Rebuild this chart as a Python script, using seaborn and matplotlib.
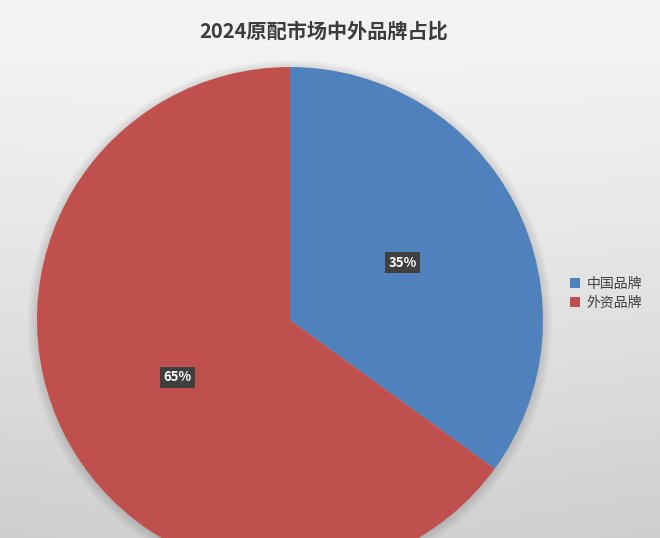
import numpy as np
import seaborn as sns
import matplotlib.pyplot as plt
from matplotlib.patches import Circle

# data
brands = ["中国品牌", "外资品牌"]
shares = [35, 65]
colors = ["#4F81BD", "#C0504D"]
title = "2024原配市场中外品牌占比"

sns.set_theme(style="white")
plt.rcParams['font.family'] = ['Noto Sans CJK SC', 'DejaVu Sans']

fig = plt.figure(figsize=(6.6, 5.38), dpi=100)
ax = fig.add_axes([0, 0, 1, 1])

# grey background, light at top and darker towards the bottom
yy, xx = np.mgrid[0:538, 0:660]
t = 1 - yy / 537.0
bg = 0.955 - 0.13 * t ** 1.3 - 0.02 * (np.abs(xx - 330) / 330.0) * t
ax.imshow(bg, cmap="gray", vmin=0, vmax=1, extent=(0, 660, 0, 538),
          origin="lower", aspect="auto", zorder=0)

# soft shadow behind the pie
for i, r in enumerate(np.linspace(262, 253, 6)):
    ax.add_patch(Circle((290, 216), r, facecolor="black", alpha=0.025,
                        edgecolor="none", zorder=1))

wedges, texts, autotexts = ax.pie(
    shares, colors=colors, startangle=90, counterclock=False,
    center=(290, 218), radius=253, autopct="%d%%", pctdistance=0.5,
    frame=True, wedgeprops=dict(linewidth=0),
    textprops=dict(color="white", fontsize=9.5, fontweight="bold"))
for w in wedges:
    w.set_zorder(2)
for t in autotexts:
    t.set_bbox(dict(boxstyle="square,pad=0.25", facecolor="#3f3f3f", edgecolor="none"))
    t.set_zorder(5)

ax.set_xlim(0, 660)
ax.set_ylim(0, 538)
ax.set_aspect("auto")
ax.axis("off")

fig.text(0.49, 0.943, title, ha="center", va="center", fontsize=14.5,
         fontweight="bold", color="#3c3c3c")

leg = ax.legend(wedges, brands, loc="center left", bbox_to_anchor=(0.845, 0.455),
                frameon=False, fontsize=10, handlelength=0.7, handleheight=0.7,
                handletextpad=0.5, labelspacing=0.35)
for t in leg.get_texts():
    t.set_color("#404040")

fig.savefig("out.png", dpi=100)
